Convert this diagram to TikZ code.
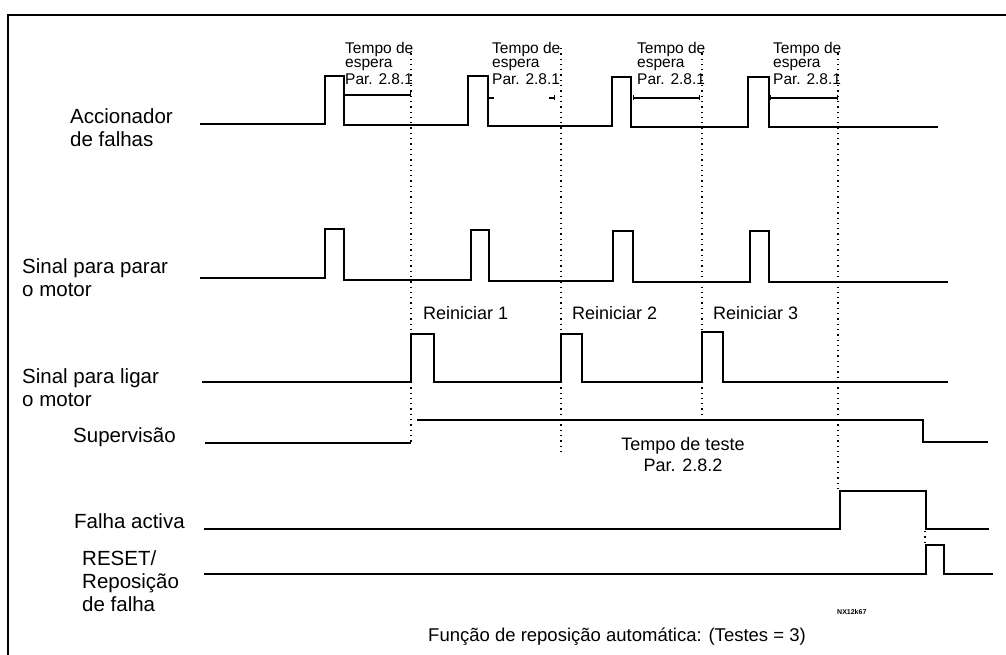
\documentclass[tikz,border=0pt]{standalone}
\usepackage{fontspec}
\setmainfont{Liberation Sans}
\usetikzlibrary{arrows.meta}

\begin{document}
\begin{tikzpicture}[x=1pt,y=-1pt,
  sig/.style={line width=1.8pt},
  guide/.style={line width=1.3pt,dash pattern=on 1.3pt off 4pt},
  dim/.style={line width=1.4pt,{Bar[width=5pt]}-{Bar[width=5pt]}},
  lbl/.style={font=\fontsize{20.5}{23}\selectfont,align=left,inner sep=0pt},
  wait/.style={font=\fontsize{15.5}{14.5}\selectfont,align=left,inner sep=0pt,anchor=north west},
  tag/.style={font=\fontsize{18}{21}\selectfont,inner sep=0pt}
]
\useasboundingbox (0,0) rectangle (1006,655);
\draw[line width=2.2pt] (1006,15) -- (8,15) -- (8,655);

% row labels
\node[lbl,anchor=north west] (acc) at (70,108) {Accionador\\de falhas};
\node[lbl,anchor=north west] (stop) at (22,258) {Sinal para parar\\o motor};
\node[lbl,anchor=north west] (start) at (22,368) {Sinal para ligar\\o motor};
\node[lbl,anchor=base west] (sup) at (73,442) {Supervisão};
\node[lbl,anchor=base west] (fault) at (74,528) {Falha activa};
\node[lbl,anchor=north west] (reset) at (82,550) {RESET/\\Reposição\\de falha};

% waveforms
\draw[sig] (200,124) -- (325,124) |- (344,76) |- (468,125) |- (488,76) |- (612,126)
  |- (631,77) |- (748,127) |- (769,77) |- (938,127);
\draw[sig] (200,278) -- (325,278) |- (344,229) |- (471,280) |- (489,230) |- (613,281)
  |- (633,231) |- (750,282) |- (769,231) |- (948,282);
\draw[sig] (202,382) -- (411,382) |- (434,334) |- (561,382) |- (582,334) |- (702,382)
  |- (723,332) |- (948,382);
\draw[sig] (205,443) -- (411,443);
\draw[sig] (417,420) -- (923,420) |- (988,442);
\draw[sig] (204,529) -- (840,529) |- (926,491) |- (989,529);
\draw[sig] (204,574) -- (926,574) |- (944,545) |- (993,574);

% wait times
\node[wait] (w1) at (345,42) {Tempo de\\espera\\[2pt]Par. 2.8.1};
\node[wait] (w2) at (492,42) {Tempo de\\espera\\[2pt]Par. 2.8.1};
\node[wait] (w3) at (637,42) {Tempo de\\espera\\[2pt]Par. 2.8.1};
\node[wait] (w4) at (773,42) {Tempo de\\espera\\[2pt]Par. 2.8.1};
\draw[dim] (344,95) -- (411,95);
\draw[line width=1.4pt,{Bar[width=5pt]}-] (488,98) -- (494,98);
\draw[line width=1.4pt,-{Bar[width=5pt]}] (549,98) -- (555,98);
\draw[dim] (633,98) -- (700,98);
\draw[dim] (770,98) -- (838,98);

% guides
\draw[guide] (411,48) -- (411,444);
\draw[guide] (561,48) -- (561,455);
\draw[guide] (702,48) -- (702,415);
\draw[guide] (838,48) -- (838,489);
\draw[guide] (925,531) -- (925,545);

\node[tag,anchor=base west] (r1) at (423,319) {Reiniciar 1};
\node[tag,anchor=base west] (r2) at (572,319) {Reiniciar 2};
\node[tag,anchor=base west] (r3) at (713,319) {Reiniciar 3};
\node[tag,align=center,anchor=north] (test) at (683,437) {Tempo de teste\\Par. 2.8.2};

\node[tag,anchor=base,font=\fontsize{18.5}{21}\selectfont] (cap) at (617,641)
  {Função de reposição automática: (Testes = 3)};
\node[inner sep=0pt,anchor=base west,font=\fontsize{7}{8}\selectfont\bfseries] (code) at (837,614) {NX12k67};
\end{tikzpicture}
\end{document}
